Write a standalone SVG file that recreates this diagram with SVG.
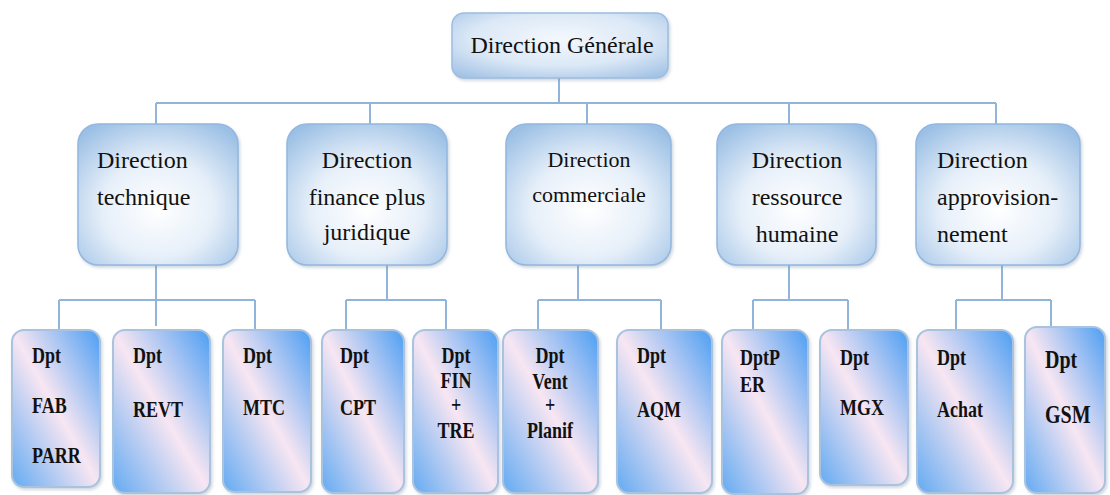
<svg xmlns="http://www.w3.org/2000/svg" width="1110" height="495" viewBox="0 0 1110 495">
<defs>
  <radialGradient id="gTop" cx="0.5" cy="0.4" r="0.75">
    <stop offset="0" stop-color="#f4f8fd"/>
    <stop offset="0.55" stop-color="#dbe8f6"/>
    <stop offset="1" stop-color="#9fc0e4"/>
  </radialGradient>
  <radialGradient id="gMid" cx="0.5" cy="0.6" r="0.7">
    <stop offset="0" stop-color="#ffffff"/>
    <stop offset="0.5" stop-color="#e6eff9"/>
    <stop offset="1" stop-color="#9cc0e5"/>
  </radialGradient>
  <linearGradient id="gDpt" x1="0" y1="1" x2="1" y2="0">
    <stop offset="0" stop-color="#62aaf2"/>
    <stop offset="0.5" stop-color="#f8e6f2"/>
    <stop offset="1" stop-color="#4c9ef3"/>
  </linearGradient>
  <filter id="sh" x="-10%" y="-10%" width="125%" height="125%">
    <feDropShadow dx="1.5" dy="2" stdDeviation="1.5" flood-color="#7a8ea6" flood-opacity="0.35"/>
  </filter>
</defs>
<style>
  .lvl1 { fill: url(#gTop); stroke: #9dbde0; stroke-width: 1.5; filter: url(#sh); }
  .lvl2 { fill: url(#gMid); stroke: #93b7de; stroke-width: 1.5; filter: url(#sh); }
  .dpt { fill: url(#gDpt); stroke: #a9c3de; stroke-width: 2; filter: url(#sh); }
  text { font-family: "Liberation Serif", "DejaVu Serif", serif; fill: #111; }
  .t1 { font-size: 24px; }
  .t2 { font-size: 24px; }
  .t2s { font-size: 22px; }
  .t3 { font-size: 18px; font-weight: bold; }
  .t3l { font-size: 20px; font-weight: bold; }
  .mid { text-anchor: middle; }
  .conn { fill: none; stroke: #91b5da; stroke-width: 2; }
</style>
<rect width="1110" height="495" fill="#ffffff"/>

<g id="connectors" class="conn">
  <path d="M559 78 V103 M156 103 H996 M156 103 V125 M370 103 V125 M587 103 V125 M789 103 V125 M996 103 V125"/>
  <path d="M156 265 V326 M59 300 H255 M59 300 V331 M255 300 V331"/>
  <path d="M387 265 V300 M346 300 H446 M346 300 V331 M446 300 V331"/>
  <path d="M578 265 V300 M538 300 H661 M538 300 V331 M661 300 V331"/>
  <path d="M789 265 V300 M753 300 H848 M753 300 V331 M848 300 V331"/>
  <path d="M1002 265 V300 M956 300 H1051 M956 300 V331 M1051 300 V341"/>
</g>

<g id="direction-generale">
  <rect class="lvl1" x="452" y="13" width="216" height="65" rx="12"/>
  <text class="t1 mid" x="562" y="53">Direction Générale</text>
</g>

<g id="direction-technique">
  <rect class="lvl2" x="78" y="124" width="160" height="141" rx="20"/>
  <text class="t2" x="97" y="168">Direction</text>
  <text class="t2" x="97" y="205">technique</text>
</g>
<g id="direction-finance">
  <rect class="lvl2" x="287" y="124" width="160" height="141" rx="20"/>
  <text class="t2 mid" x="367" y="168">Direction</text>
  <text class="t2 mid" x="367" y="205">finance plus</text>
  <text class="t2 mid" x="367" y="240">juridique</text>
</g>
<g id="direction-commerciale">
  <rect class="lvl2" x="506" y="124" width="165" height="141" rx="20"/>
  <text class="t2s mid" x="589" y="167">Direction</text>
  <text class="t2s mid" x="589" y="202">commerciale</text>
</g>
<g id="direction-rh">
  <rect class="lvl2" x="717" y="124" width="159" height="141" rx="20"/>
  <text class="t2 mid" x="797" y="168">Direction</text>
  <text class="t2 mid" x="797" y="205">ressource</text>
  <text class="t2 mid" x="797" y="242">humaine</text>
</g>
<g id="direction-appro">
  <rect class="lvl2" x="916" y="124" width="164" height="141" rx="20"/>
  <text class="t2" x="937" y="168">Direction</text>
  <text class="t2" x="937" y="205">approvision-</text>
  <text class="t2" x="937" y="242">nement</text>
</g>

<g id="dpt-fab-parr">
  <rect class="dpt" x="12" y="330" width="88" height="157" rx="12"/>
  <text class="t3" transform="translate(32,363) scale(1,1.25)">Dpt</text>
  <text class="t3" transform="translate(32,413) scale(1,1.25)">FAB</text>
  <text class="t3" transform="translate(32,463) scale(1,1.25)">PARR</text>
</g>
<g id="dpt-revt">
  <rect class="dpt" x="113" y="330" width="97" height="163" rx="12"/>
  <text class="t3" transform="translate(133,363) scale(1,1.25)">Dpt</text>
  <text class="t3" transform="translate(133,417) scale(1,1.25)">REVT</text>
</g>
<g id="dpt-mtc">
  <rect class="dpt" x="223" y="330" width="88" height="162" rx="12"/>
  <text class="t3" transform="translate(243,363) scale(1,1.25)">Dpt</text>
  <text class="t3" transform="translate(243,415) scale(1,1.25)">MTC</text>
</g>
<g id="dpt-cpt">
  <rect class="dpt" x="322" y="330" width="82" height="163" rx="12"/>
  <text class="t3" transform="translate(340,363) scale(1,1.25)">Dpt</text>
  <text class="t3" transform="translate(340,415) scale(1,1.25)">CPT</text>
</g>
<g id="dpt-fin-tre">
  <rect class="dpt" x="413" y="330" width="85" height="163" rx="12"/>
  <text class="t3 mid" transform="translate(456,363) scale(1,1.25)">Dpt</text>
  <text class="t3 mid" transform="translate(456,388) scale(1,1.25)">FIN</text>
  <text class="t3 mid" transform="translate(456,412) scale(1,1.25)">+</text>
  <text class="t3 mid" transform="translate(456,438) scale(1,1.25)">TRE</text>
</g>
<g id="dpt-vent-planif">
  <rect class="dpt" x="503" y="330" width="95" height="163" rx="12"/>
  <text class="t3 mid" transform="translate(550,363) scale(1,1.25)">Dpt</text>
  <text class="t3 mid" transform="translate(550,389) scale(1,1.25)">Vent</text>
  <text class="t3 mid" transform="translate(550,412) scale(1,1.25)">+</text>
  <text class="t3 mid" transform="translate(550,438) scale(1,1.25)">Planif</text>
</g>
<g id="dpt-aqm">
  <rect class="dpt" x="617" y="330" width="95" height="163" rx="12"/>
  <text class="t3" transform="translate(637,363) scale(1,1.25)">Dpt</text>
  <text class="t3" transform="translate(637,417) scale(1,1.25)">AQM</text>
</g>
<g id="dpt-per">
  <rect class="dpt" x="722" y="330" width="86" height="164" rx="12"/>
  <text class="t3" transform="translate(740,365) scale(1,1.25)">DptP</text>
  <text class="t3" transform="translate(740,392) scale(1,1.25)">ER</text>
</g>
<g id="dpt-mgx">
  <rect class="dpt" x="820" y="330" width="88" height="155" rx="12"/>
  <text class="t3" transform="translate(840,365) scale(1,1.25)">Dpt</text>
  <text class="t3" transform="translate(840,415) scale(1,1.25)">MGX</text>
</g>
<g id="dpt-achat">
  <rect class="dpt" x="917" y="330" width="96" height="163" rx="12"/>
  <text class="t3" transform="translate(937,365) scale(1,1.25)">Dpt</text>
  <text class="t3" transform="translate(937,417) scale(1,1.25)">Achat</text>
</g>
<g id="dpt-gsm">
  <rect class="dpt" x="1025" y="327" width="80" height="166" rx="12"/>
  <text class="t3l" transform="translate(1045,368) scale(1,1.25)">Dpt</text>
  <text class="t3l" transform="translate(1045,423) scale(1,1.25)">GSM</text>
</g>
</svg>
